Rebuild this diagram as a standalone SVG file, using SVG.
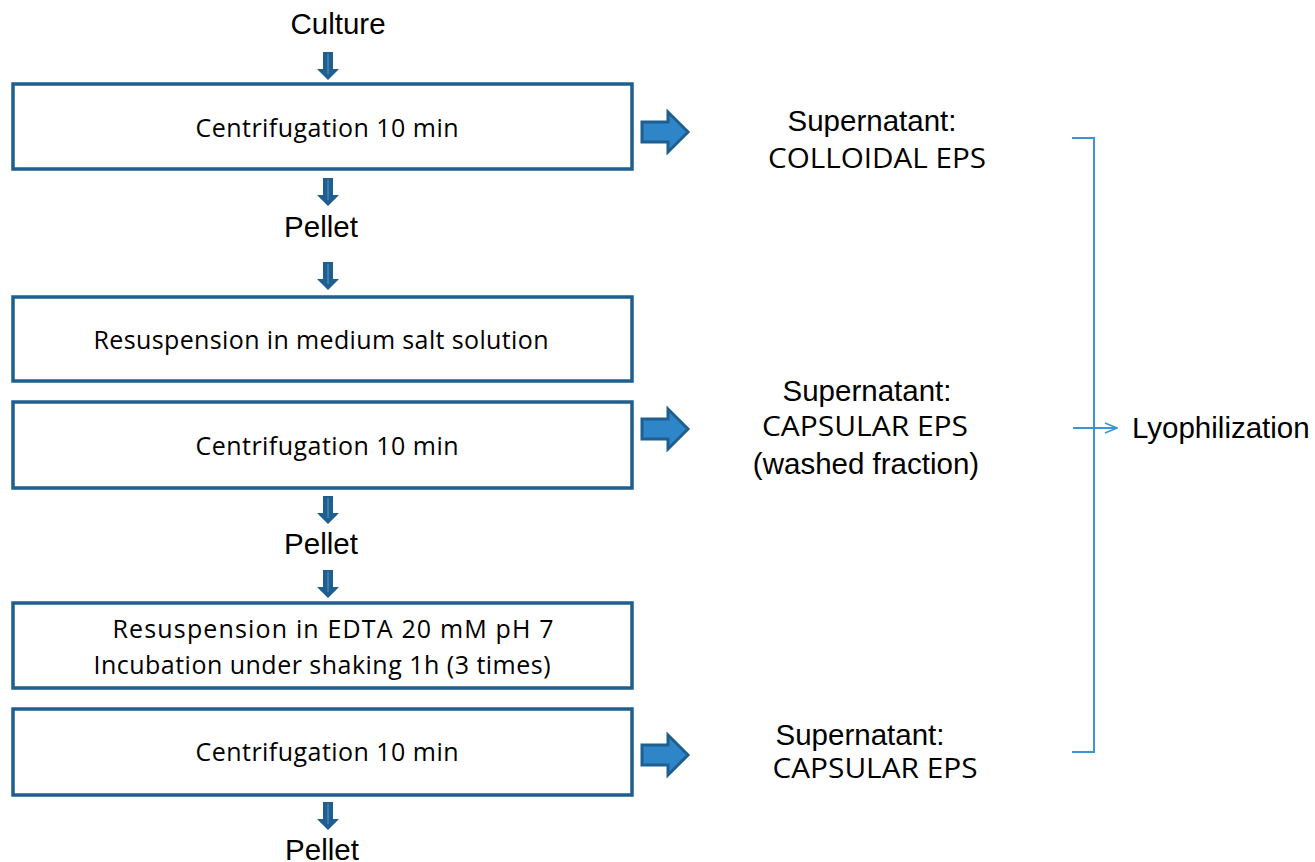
<svg xmlns="http://www.w3.org/2000/svg" width="1315" height="862" viewBox="0 0 1315 862">
<style>
.box{fill:#fff;stroke:#1e5f8f;stroke-width:3.5}
.bt{font-family:"Open Sans","Liberation Sans",sans-serif;font-size:25px;fill:#000;text-anchor:middle}
.lt{font-family:"Liberation Sans",Arial,sans-serif;font-size:29.5px;fill:#000;text-anchor:middle}
.ct{font-family:"Open Sans","Liberation Sans",sans-serif;font-size:28px;fill:#000;text-anchor:middle}
.da{fill:#1e5f8f}
.ra{fill:#2e86c9;stroke:#1e5f8f;stroke-width:3;stroke-linejoin:miter}
.br{fill:none;stroke:#3a96d2;stroke-width:2}
</style>
<defs>
<g id="down"><path class="da" d="M-5,0 H5 V17 H11 L0,28 L-11,17 H-5 Z"/><line x1="0" y1="2" x2="0" y2="22" stroke="#5a9bc8" stroke-width="1"/></g>
<path id="right" class="ra" d="M642,-10 H668 V-20 L688,0 L668,20 V10 H642 Z"/>
<marker id="open" markerWidth="14" markerHeight="12" refX="13" refY="6" orient="auto" markerUnits="userSpaceOnUse"><path d="M1,1 L13,6 L1,11" fill="none" stroke="#3a96d2" stroke-width="1.5"/></marker>
</defs>
<g id="culture"><text class="lt" x="338" y="34">Culture</text></g>
<g id="box1"><rect class="box" x="13" y="84" width="619" height="85"/><text class="bt" x="327" y="137" textLength="263" lengthAdjust="spacing">Centrifugation 10 min</text></g>
<g id="pellet1"><text class="lt" x="321" y="237">Pellet</text></g>
<g id="box2"><rect class="box" x="13" y="297" width="619" height="84"/><text class="bt" x="321" y="349" textLength="455" lengthAdjust="spacing">Resuspension in medium salt solution</text></g>
<g id="box3"><rect class="box" x="13" y="402" width="619" height="86"/><text class="bt" x="327" y="455" textLength="263" lengthAdjust="spacing">Centrifugation 10 min</text></g>
<g id="pellet2"><text class="lt" x="321" y="554">Pellet</text></g>
<g id="box4"><rect class="box" x="13" y="603" width="619" height="85"/><text class="bt" x="333" y="638" textLength="441" lengthAdjust="spacing">Resuspension in EDTA 20 mM pH 7</text><text class="bt" x="322" y="674" textLength="457" lengthAdjust="spacing">Incubation under shaking 1h (3 times)</text></g>
<g id="box5"><rect class="box" x="13" y="709" width="619" height="86"/><text class="bt" x="327" y="761" textLength="263" lengthAdjust="spacing">Centrifugation 10 min</text></g>
<g id="pellet3"><text class="lt" x="322" y="860">Pellet</text></g>
<g id="sup1"><text class="lt" x="872" y="131">Supernatant:</text><text class="ct" x="877" y="168" textLength="218" lengthAdjust="spacingAndGlyphs">COLLOIDAL EPS</text></g>
<g id="sup2"><text class="lt" x="867" y="401">Supernatant:</text><text class="ct" x="865" y="436" textLength="206" lengthAdjust="spacingAndGlyphs">CAPSULAR EPS</text><text class="lt" x="866" y="474">(washed fraction)</text></g>
<g id="sup3"><text class="lt" x="860" y="745">Supernatant:</text><text class="ct" x="875" y="778" textLength="205" lengthAdjust="spacingAndGlyphs">CAPSULAR EPS</text></g>
<g id="lyo"><text class="lt" x="1132" y="438" style="text-anchor:start">Lyophilization</text></g>
<g id="connectors">
<use href="#down" x="328" y="52"/>
<use href="#down" x="328" y="178"/>
<use href="#down" x="328" y="262"/>
<use href="#down" x="328" y="496"/>
<use href="#down" x="328" y="570"/>
<use href="#down" x="328" y="802"/>
<use href="#right" y="132"/>
<use href="#right" y="429"/>
<use href="#right" y="755"/>
<path class="br" d="M1072,138 H1094 V752 H1072"/>
<line class="br" x1="1073" y1="428" x2="1117" y2="428" marker-end="url(#open)"/>
</g>
</svg>
